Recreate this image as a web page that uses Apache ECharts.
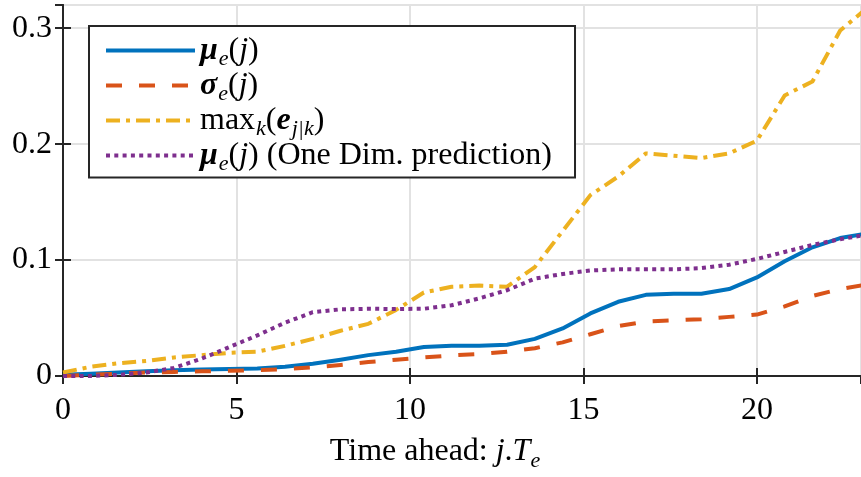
<!DOCTYPE html>
<html>
<head>
<meta charset="utf-8">
<script src="https://cdn.jsdelivr.net/npm/echarts@6/dist/echarts.min.js"></script>
<style>
  html, body { margin: 0; padding: 0; background: #fff; }
  #chart { width: 861px; height: 477px; }
</style>
</head>
<body>
<div id="chart"></div>
<script>
// Prediction horizon samples j (units of T_e)
const horizon = [0, 0.8, 1.6, 2.4, 3.2, 4.0, 4.8, 5.6, 6.4, 7.2, 8.0, 8.8, 9.6, 10.4, 11.2,
  12.0, 12.8, 13.6, 14.4, 15.2, 16.0, 16.8, 17.6, 18.4, 19.2, 20.0, 20.8, 21.6, 22.4, 23.2];

// Mean prediction error
const muE = [0.001, 0.002, 0.003, 0.004, 0.005, 0.0055, 0.006, 0.0065, 0.008, 0.0105, 0.014, 0.018,
  0.021, 0.025, 0.026, 0.026, 0.027, 0.032, 0.041, 0.054, 0.064, 0.070, 0.071, 0.071, 0.075,
  0.085, 0.099, 0.111, 0.119, 0.123];
// Standard deviation of the error
const sigmaE = [0, 0.001, 0.002, 0.003, 0.0035, 0.004, 0.0045, 0.005, 0.006, 0.0075, 0.0095, 0.012,
  0.014, 0.016, 0.0178, 0.019, 0.021, 0.024, 0.029, 0.036, 0.043, 0.047, 0.048, 0.049, 0.051,
  0.053, 0.060, 0.069, 0.075, 0.079];
// Worst-case error over k
const maxE = [0.003, 0.008, 0.011, 0.013, 0.016, 0.018, 0.020, 0.021, 0.026, 0.032, 0.039, 0.045,
  0.057, 0.072, 0.077, 0.078, 0.077, 0.094, 0.125, 0.156, 0.172, 0.192, 0.190, 0.188, 0.192,
  0.203, 0.242, 0.254, 0.298, 0.318];
// Mean error of the one-dimensional predictor
const mu1D = [0, 0, 0.001, 0.003, 0.007, 0.015, 0.025, 0.035, 0.046, 0.055, 0.0575, 0.058,
  0.0578, 0.058, 0.061, 0.067, 0.074, 0.084, 0.088, 0.091, 0.092, 0.092, 0.092, 0.093, 0.096,
  0.101, 0.107, 0.113, 0.118, 0.122];

const xTicks = { min: 0, max: 23, interval: 5 };
const yTicks = { min: 0, max: 0.32, interval: 0.1 };

const SERIF = 'Liberation Serif';
const AX = '#262626';
const GRIDC = '#e2e2e2';
const TICKFONT = 32;

const pairs = ys => horizon.map((x, i) => [x, ys[i]]);

const legendLabels = {
  mu: '{bm|μ}{sub|e}{n|(}{it|j}{n|)}',
  sigma: '{bm|σ}{sub|e}{n|(}{it|j}{n|)}',
  max: '{n|max}{sub|k}{n|(}{bm|e}{sub|j|k}{n|)}',
  mu1d: '{bm|μ}{sub|e}{n|(}{it|j}{n|) (One Dim. prediction)}'
};

const LF = 32;
const legendRich = {
  n:  { fontFamily: SERIF, fontSize: LF, color: '#000', lineHeight: 35 },
  it: { fontFamily: SERIF, fontSize: LF, fontStyle: 'italic', color: '#000', lineHeight: 35 },
  bm: { fontFamily: SERIF, fontSize: LF, fontStyle: 'italic', fontWeight: 'bold', color: '#000', lineHeight: 35 },
  sub: { fontFamily: SERIF, fontSize: 22, fontStyle: 'italic', color: '#000', lineHeight: 17, padding: [18, 0, 0, 1] }
};

const chart = echarts.init(document.getElementById('chart'), null, { renderer: 'canvas' });

const lineSeries = (name, ys, color, type, width) => ({
  name, type: 'line', data: pairs(ys), showSymbol: false, symbol: 'none',
  smooth: false, clip: true,
  lineStyle: { color, width, type, cap: 'butt', join: 'round' },
  itemStyle: { color },
  emphasis: { disabled: true }
});

const boxAxis = extra => Object.assign({
  axisLine: { show: true, lineStyle: { color: AX, width: 2 } },
  axisTick: { show: true, inside: true, length: 8, lineStyle: { color: AX, width: 2 } },
  axisLabel: { show: false }, splitLine: { show: false }
}, extra);

chart.setOption({
  animation: false,
  backgroundColor: '#fff',
  grid: { left: 63, right: -1, top: 5, bottom: 97, containLabel: false },
  xAxis: [{
    type: 'value', ...xTicks, position: 'bottom',
    axisLine: { show: true, lineStyle: { color: AX, width: 2 } },
    axisTick: { show: true, inside: true, length: 8, lineStyle: { color: AX, width: 2 } },
    axisLabel: { show: true, margin: 19, fontFamily: SERIF, fontSize: TICKFONT, color: '#000', showMaxLabel: false },
    splitLine: { show: true, lineStyle: { color: GRIDC, width: 2 } },
    name: '{n|Time ahead: }{it|j}{n|.}{it|T}{sub|e}',
    nameLocation: 'middle', nameGap: 59,
    nameTextStyle: {
      padding: [0, 54, 0, 0],
      rich: {
        n: { fontFamily: SERIF, fontSize: 32, color: '#000', lineHeight: 34 },
        it: { fontFamily: SERIF, fontSize: 32, fontStyle: 'italic', color: '#000', lineHeight: 34 },
        sub: { fontFamily: SERIF, fontSize: 22, fontStyle: 'italic', color: '#000', lineHeight: 16, padding: [18, 0, 0, 0] }
      }
    }
  }, boxAxis({ type: 'value', ...xTicks, position: 'top' })],
  yAxis: [{
    type: 'value', ...yTicks, position: 'left',
    axisLine: { show: true, lineStyle: { color: AX, width: 2 } },
    axisTick: { show: true, inside: true, length: 8, lineStyle: { color: AX, width: 2 } },
    axisLabel: { show: true, margin: 11, fontFamily: SERIF, fontSize: TICKFONT, color: '#000', showMaxLabel: false },
    splitLine: { show: true, lineStyle: { color: GRIDC, width: 2 } }
  }, boxAxis({ type: 'value', ...yTicks, position: 'right' })],
  legend: {
    orient: 'vertical', left: 89, top: 26,
    padding: [4.5, 23, 2, 15],
    itemWidth: 89, itemHeight: 14, itemGap: -5,
    backgroundColor: '#fff', borderColor: AX, borderWidth: 2, borderRadius: 0,
    selectedMode: false,
    itemStyle: { opacity: 0, borderWidth: 0 },
    lineStyle: { width: 4 },
    data: ['mu', 'sigma', 'max', 'mu1d'],
    formatter: name => legendLabels[name],
    textStyle: { fontFamily: SERIF, fontSize: LF, color: '#000', lineHeight: 35, rich: legendRich }
  },
  series: [
    lineSeries('mu', muE, '#0072BD', 'solid', 4),
    lineSeries('sigma', sigmaE, '#D95319', [16, 17], 4),
    lineSeries('max', maxE, '#EDB120', [14, 6, 4, 6], 4),
    lineSeries('mu1d', mu1D, '#7E2F8E', [4, 4.3], 4)
  ]
});
</script>
</body>
</html>
